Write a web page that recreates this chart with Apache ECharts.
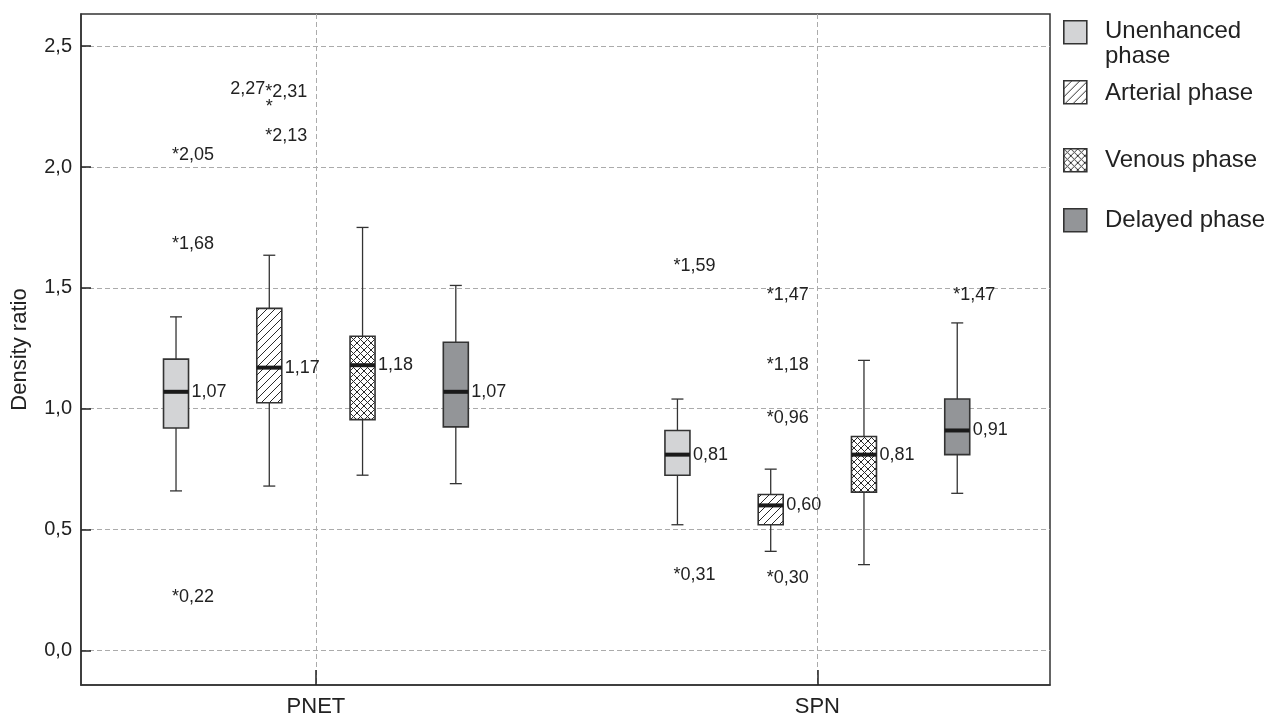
<!DOCTYPE html>
<html>
<head>
<meta charset="utf-8">
<script src="https://cdn.jsdelivr.net/npm/echarts@6/dist/echarts.min.js"></script>
<style>
  html, body { margin: 0; padding: 0; background: #fff; }
  #chart { width: 1267px; height: 718px; }
</style>
</head>
<body>
<div id="chart"></div>
<script>
// ---- data ----
const groups = ['PNET', 'SPN'];
const phases = ['Unenhanced phase', 'Arterial phase', 'Venous phase', 'Delayed phase'];
const yTicks = [0, 0.5, 1, 1.5, 2, 2.5];

// Box statistics per group: [lower whisker, Q1, median, Q3, upper whisker]
const unenhancedStats = [[0.66, 0.92, 1.07, 1.205, 1.38], [0.52, 0.725, 0.81, 0.91, 1.04]];
const arterialStats   = [[0.68, 1.025, 1.17, 1.415, 1.635], [0.41, 0.52, 0.60, 0.645, 0.75]];
const venousStats     = [[0.725, 0.955, 1.18, 1.30, 1.75], [0.355, 0.655, 0.81, 0.885, 1.20]];
const delayedStats    = [[0.69, 0.925, 1.07, 1.275, 1.51], [0.65, 0.81, 0.91, 1.04, 1.355]];

// Outliers per group
const unenhancedOutliers = [[2.05, 1.68, 0.22], [1.59, 0.31]];
const arterialOutliers   = [[2.31, 2.27, 2.13], [1.47, 1.18, 0.96, 0.30]];
const venousOutliers     = [[], []];
const delayedOutliers    = [[], [1.47]];

// ---- styling ----
const FONT = '"Liberation Sans", Arial, Helvetica, sans-serif';
const INK = '#222222';
const EDGE = '#333333';
const GRID_LINE = '#ababab';
const phaseOffsets = [-0.279, -0.093, 0.093, 0.279];
const BOX_W = 25;
const CAP_W = 12;

function makePattern(kind) {
  const s = kind === 'hatch' ? 8 : 7;
  const c = document.createElement('canvas');
  c.width = s; c.height = s;
  const ctx = c.getContext('2d');
  ctx.fillStyle = '#ffffff';
  ctx.fillRect(0, 0, s, s);
  ctx.strokeStyle = '#2a2a2a';
  ctx.lineWidth = 1;
  ctx.beginPath();
  ctx.moveTo(0, s); ctx.lineTo(s, 0);
  ctx.moveTo(-1, 1); ctx.lineTo(1, -1);
  ctx.moveTo(s - 1, s + 1); ctx.lineTo(s + 1, s - 1);
  if (kind === 'cross') {
    ctx.moveTo(0, 0); ctx.lineTo(s, s);
    ctx.moveTo(-1, s - 1); ctx.lineTo(1, s + 1);
    ctx.moveTo(s - 1, -1); ctx.lineTo(s + 1, 1);
  }
  ctx.stroke();
  return { type: 'pattern', image: c, repeat: 'repeat' };
}

const phaseFills = ['#d3d4d6', makePattern('hatch'), makePattern('cross'), '#939598'];
const fmt = v => v.toFixed(2).replace('.', ',');

function boxSeries(pi, stats) {
  return {
    type: 'custom',
    name: phases[pi],
    data: stats.map((s, gi) => [gi + 1].concat(s)),
    encode: { x: 0, y: [1, 2, 3, 4, 5] },
    z: 3,
    renderItem(params, api) {
      const xc = api.coord([api.value(0) + phaseOffsets[pi], 0])[0];
      const py = k => api.coord([1, api.value(k)])[1];
      const lo = py(1), q1 = py(2), med = py(3), q3 = py(4), hi = py(5);
      const left = xc - BOX_W / 2;
      const ls = { stroke: EDGE, lineWidth: 1.3 };
      return {
        type: 'group',
        children: [
          { type: 'line', shape: { x1: xc, y1: hi, x2: xc, y2: q3 }, style: ls },
          { type: 'line', shape: { x1: xc, y1: q1, x2: xc, y2: lo }, style: ls },
          { type: 'line', shape: { x1: xc - CAP_W / 2, y1: hi, x2: xc + CAP_W / 2, y2: hi }, style: ls },
          { type: 'line', shape: { x1: xc - CAP_W / 2, y1: lo, x2: xc + CAP_W / 2, y2: lo }, style: ls },
          { type: 'rect', shape: { x: left, y: q3, width: BOX_W, height: q1 - q3 },
            style: { fill: phaseFills[pi], stroke: EDGE, lineWidth: 1.6 } },
          { type: 'line', shape: { x1: left, y1: med, x2: left + BOX_W, y2: med },
            style: { stroke: '#1a1a1a', lineWidth: 4 } },
          { type: 'text', x: left + BOX_W + 3, y: med,
            style: { text: fmt(api.value(3)), fill: INK, font: '18px ' + FONT,
                     align: 'left', verticalAlign: 'middle' } }
        ]
      };
    }
  };
}

const statSets = [unenhancedStats, arterialStats, venousStats, delayedStats];
const outlierSets = [unenhancedOutliers, arterialOutliers, venousOutliers, delayedOutliers];

const outlierData = [];
outlierSets.forEach((set, pi) => set.forEach((vals, gi) => vals.forEach(v => outlierData.push([gi + 1, v, pi]))));

const outlierSeries = {
  type: 'custom',
  name: 'Outliers',
  data: outlierData,
  encode: { x: 0, y: 1 },
  z: 4,
  renderItem(params, api) {
    const g = api.value(0), v = api.value(1), pi = api.value(2);
    const pt = api.coord([g + phaseOffsets[pi], v]);
    const font = '18px ' + FONT;
    // an outlier crowded by a slightly higher one keeps only its star; its value goes to the left
    const above = outlierSets[pi][g - 1].filter(o => o > v && o - v < 0.06);
    if (above.length) {
      const yUp = api.coord([g, above[0]])[1];
      return {
        type: 'group',
        children: [
          { type: 'text', x: pt[0], y: pt[1] + 5,
            style: { text: '*', fill: INK, font, align: 'center', verticalAlign: 'middle' } },
          { type: 'text', x: pt[0] - 4, y: yUp - 3,
            style: { text: fmt(v), fill: INK, font, align: 'right', verticalAlign: 'middle' } }
        ]
      };
    }
    return {
      type: 'text', x: pt[0] - 4, y: pt[1],
      style: { text: '*' + fmt(v), fill: INK, font, align: 'left', verticalAlign: 'middle' }
    };
  }
};

// ---- legend ----
const legendRows = [
  { y: 20, textY: 19 },
  { y: 80, textY: 93 },
  { y: 148, textY: 160 },
  { y: 208, textY: 220 }
];
const legendGraphics = [];
legendRows.forEach((row, i) => {
  legendGraphics.push({
    type: 'rect', left: 1063, top: row.y,
    shape: { width: 23, height: 23 },
    style: { fill: phaseFills[i], stroke: EDGE, lineWidth: 1.6 }
  });
  legendGraphics.push({
    type: 'text', x: 1105, y: row.textY,
    style: {
      text: i === 0 ? 'Unenhanced\nphase' : phases[i],
      font: '24px ' + FONT, fill: INK, lineHeight: 25,
      align: 'left', verticalAlign: i === 0 ? 'top' : 'middle'
    }
  });
});

const chart = echarts.init(document.getElementById('chart'), null, { renderer: 'canvas' });
chart.setOption({
  animation: false,
  backgroundColor: '#ffffff',
  textStyle: { fontFamily: FONT },
  grid: {
    left: 81, right: 217, top: 14, bottom: 32,
    show: true, borderColor: EDGE, borderWidth: 1.5, backgroundColor: 'transparent'
  },
  xAxis: {
    type: 'value', min: 0.5315, max: 2.464,
    axisLine: { show: true, onZero: false, lineStyle: { color: EDGE, width: 1.5 } },
    axisTick: { show: true, inside: true, length: 15, customValues: [1, 2],
                lineStyle: { color: '#222', width: 1.5 } },
    axisLabel: { customValues: [1, 2], formatter: v => groups[Math.round(v) - 1] || '',
                 fontSize: 22, color: INK, margin: 11, fontFamily: FONT },
    splitLine: { show: true, lineStyle: { type: [5, 3], color: GRID_LINE, width: 1 } }
  },
  yAxis: {
    type: 'value', min: -0.143, max: 2.633,
    name: 'Density ratio', nameLocation: 'middle', nameGap: 50,
    nameTextStyle: { fontSize: 22, color: INK, fontFamily: FONT },
    axisLine: { show: true, lineStyle: { color: EDGE, width: 1.5 } },
    axisTick: { show: true, inside: true, length: 10, customValues: yTicks,
                lineStyle: { color: '#222', width: 1.5 } },
    axisLabel: { customValues: yTicks, formatter: v => v.toFixed(1).replace('.', ','),
                 fontSize: 20, color: INK, margin: 9, fontFamily: FONT },
    splitLine: { show: true, lineStyle: { type: [5, 3], color: GRID_LINE, width: 1 } }
  },
  graphic: legendGraphics,
  series: statSets.map((s, pi) => boxSeries(pi, s)).concat([outlierSeries])
});
</script>
</body>
</html>
